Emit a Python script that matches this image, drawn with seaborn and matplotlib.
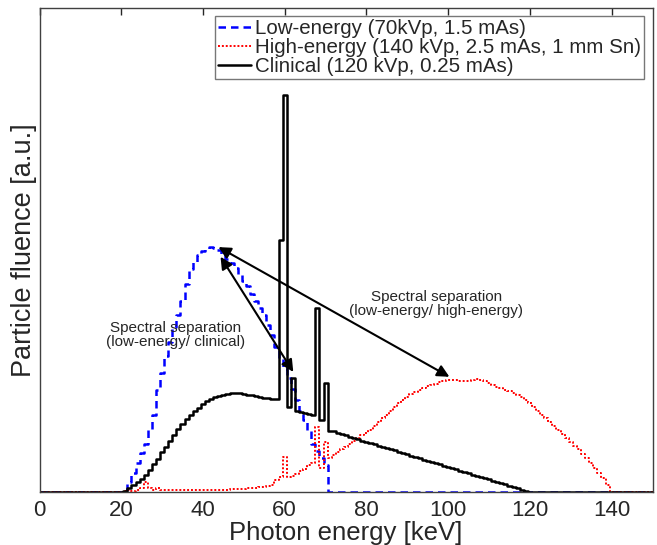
import numpy as np
import pandas as pd
import matplotlib
matplotlib.use('Agg')
import matplotlib.pyplot as plt
import seaborn as sns

# energias en keV (bins de 1 keV)
energy = np.arange(0, 151)

# espectro baja energia (70 kVp), valores 20..70 keV
low_core = [
    0.0, 0.005, 0.02, 0.04, 0.06, 0.08, 0.10, 0.13, 0.16, 0.21,
    0.245, 0.28, 0.31, 0.34, 0.365, 0.395, 0.43, 0.46, 0.475, 0.49,
    0.497, 0.503, 0.507, 0.505, 0.50, 0.492, 0.482, 0.474, 0.462, 0.448,
    0.435, 0.425, 0.41, 0.395, 0.38, 0.365, 0.345, 0.325, 0.30, 0.275,
    0.255, 0.235, 0.212, 0.19, 0.168, 0.148, 0.128, 0.10, 0.085, 0.07,
    0.055,
]
# espectro alta energia (140 kVp, 1 mm Sn), valores 20..140 keV
high_core = [
    0.0, 0.002, 0.004, 0.003, 0.004, 0.008, 0.021, 0.008, 0.004, 0.009,
    0.005, 0.004, 0.004, 0.004, 0.004, 0.004, 0.004, 0.004, 0.004, 0.004,
    0.004, 0.004, 0.004, 0.005, 0.005, 0.005, 0.005, 0.006, 0.006, 0.006,
    0.007, 0.008, 0.008, 0.009, 0.010, 0.011, 0.013, 0.015, 0.025, 0.030,
    0.072, 0.030, 0.034, 0.038, 0.043, 0.048, 0.055, 0.060, 0.134, 0.050,
    0.103, 0.070, 0.076, 0.082, 0.088, 0.094, 0.100, 0.106, 0.111, 0.117,
    0.122, 0.129, 0.137, 0.144, 0.152, 0.159, 0.167, 0.175, 0.184, 0.190,
    0.196, 0.202, 0.207, 0.211, 0.215, 0.218, 0.221, 0.224, 0.227, 0.229,
    0.231, 0.232, 0.231, 0.230, 0.229, 0.230, 0.232, 0.233, 0.232, 0.229,
    0.225, 0.221, 0.217, 0.214, 0.211, 0.208, 0.204, 0.200, 0.196, 0.190,
    0.184, 0.176, 0.168, 0.160, 0.152, 0.144, 0.136, 0.128, 0.120, 0.112,
    0.104, 0.096, 0.088, 0.079, 0.070, 0.060, 0.050, 0.040, 0.028, 0.015,
    0.0,
]
# espectro clinico (120 kVp), valores 20..120 keV
clin_core = [
    0.0, 0.003, 0.008, 0.014, 0.020, 0.026, 0.035, 0.045, 0.057, 0.069,
    0.082, 0.094, 0.106, 0.118, 0.130, 0.140, 0.150, 0.159, 0.167, 0.174,
    0.181, 0.187, 0.192, 0.196, 0.199, 0.201, 0.203, 0.204, 0.204, 0.204,
    0.203, 0.201, 0.200, 0.198, 0.197, 0.195, 0.194, 0.193, 0.193, 0.520,
    0.820, 0.176, 0.235, 0.168, 0.166, 0.164, 0.162, 0.159, 0.380, 0.149,
    0.225, 0.127, 0.127, 0.122, 0.119, 0.117, 0.114, 0.112, 0.109, 0.106,
    0.104, 0.101, 0.099, 0.096, 0.093, 0.091, 0.088, 0.086, 0.083, 0.080,
    0.078, 0.075, 0.073, 0.070, 0.067, 0.065, 0.062, 0.060, 0.057, 0.054,
    0.052, 0.049, 0.047, 0.044, 0.041, 0.039, 0.036, 0.034, 0.031, 0.028,
    0.026, 0.023, 0.021, 0.018, 0.016, 0.013, 0.010, 0.008, 0.005, 0.003,
    0.0,
]

low = [0.0] * 20 + low_core + [0.0] * 80
high = [0.0] * 20 + high_core + [0.0] * 10
clin = [0.0] * 20 + clin_core + [0.0] * 30

labels = ['Low-energy (70kVp, 1.5 mAs)',
          'High-energy (140 kVp, 2.5 mAs, 1 mm Sn)',
          'Clinical (120 kVp, 0.25 mAs)']

df = pd.DataFrame({'energy': energy, 'low': low, 'high': high, 'clin': clin})

sns.set_style('white')
plt.rcParams['font.family'] = ['Liberation Sans', 'DejaVu Sans']

fig = plt.figure(figsize=(6.57, 5.45), dpi=100)
ax = fig.add_axes([39.5 / 657, 53 / 545, (652.5 - 39.5) / 657, 484 / 545])

sns.lineplot(data=df, x='energy', y='low', ax=ax, color='#0000ff', lw=1.8,
             linestyle=(0, (3, 2)), drawstyle='steps-mid', label=labels[0])
sns.lineplot(data=df, x='energy', y='high', ax=ax, color='#ff0000', lw=1.4,
             linestyle=(0, (1, 1)), drawstyle='steps-mid', label=labels[1])
sns.lineplot(data=df, x='energy', y='clin', ax=ax, color='black', lw=1.8,
             drawstyle='steps-mid', label=labels[2])

ax.set_xlim(0, 150)
ax.set_ylim(0, 1)
ax.set_xticks(range(0, 141, 20))
ax.set_yticks([])
ax.tick_params(axis='x', direction='in', top=True, length=5, width=1,
               labelsize=16, pad=6, colors='#262626')
for s in ax.spines.values():
    s.set_color('#404040')
    s.set_linewidth(1)

ax.set_xlabel('Photon energy [keV]', fontsize=18.5, labelpad=0, color='#262626')
ax.set_ylabel('Particle fluence [a.u.]', fontsize=19.5, labelpad=2, color='#262626')

# flechas de separacion espectral
arrow = dict(arrowstyle='<|-|>', color='black', lw=1.5, mutation_scale=18,
             shrinkA=0, shrinkB=0)
ax.annotate('', xy=(43.8, 0.506), xytext=(100.3, 0.238), arrowprops=arrow)
ax.annotate('', xy=(44.3, 0.486), xytext=(62.1, 0.248), arrowprops=arrow)

ax.text(33.4, 0.324, 'Spectral separation\n(low-energy/ clinical)',
        ha='center', va='center', fontsize=11, linespacing=1.0)
ax.text(97.1, 0.388, 'Spectral separation\n(low-energy/ high-energy)',
        ha='center', va='center', fontsize=11, linespacing=1.0)

leg = ax.legend(loc='upper right', fontsize=14.8, handlelength=1.6,
                handletextpad=0.2, labelspacing=0.0, borderpad=0.15,
                borderaxespad=0.4, frameon=True, fancybox=False)
leg.get_frame().set_edgecolor('#555555')
leg.get_frame().set_linewidth(1)

fig.savefig('out.png', dpi=100)
